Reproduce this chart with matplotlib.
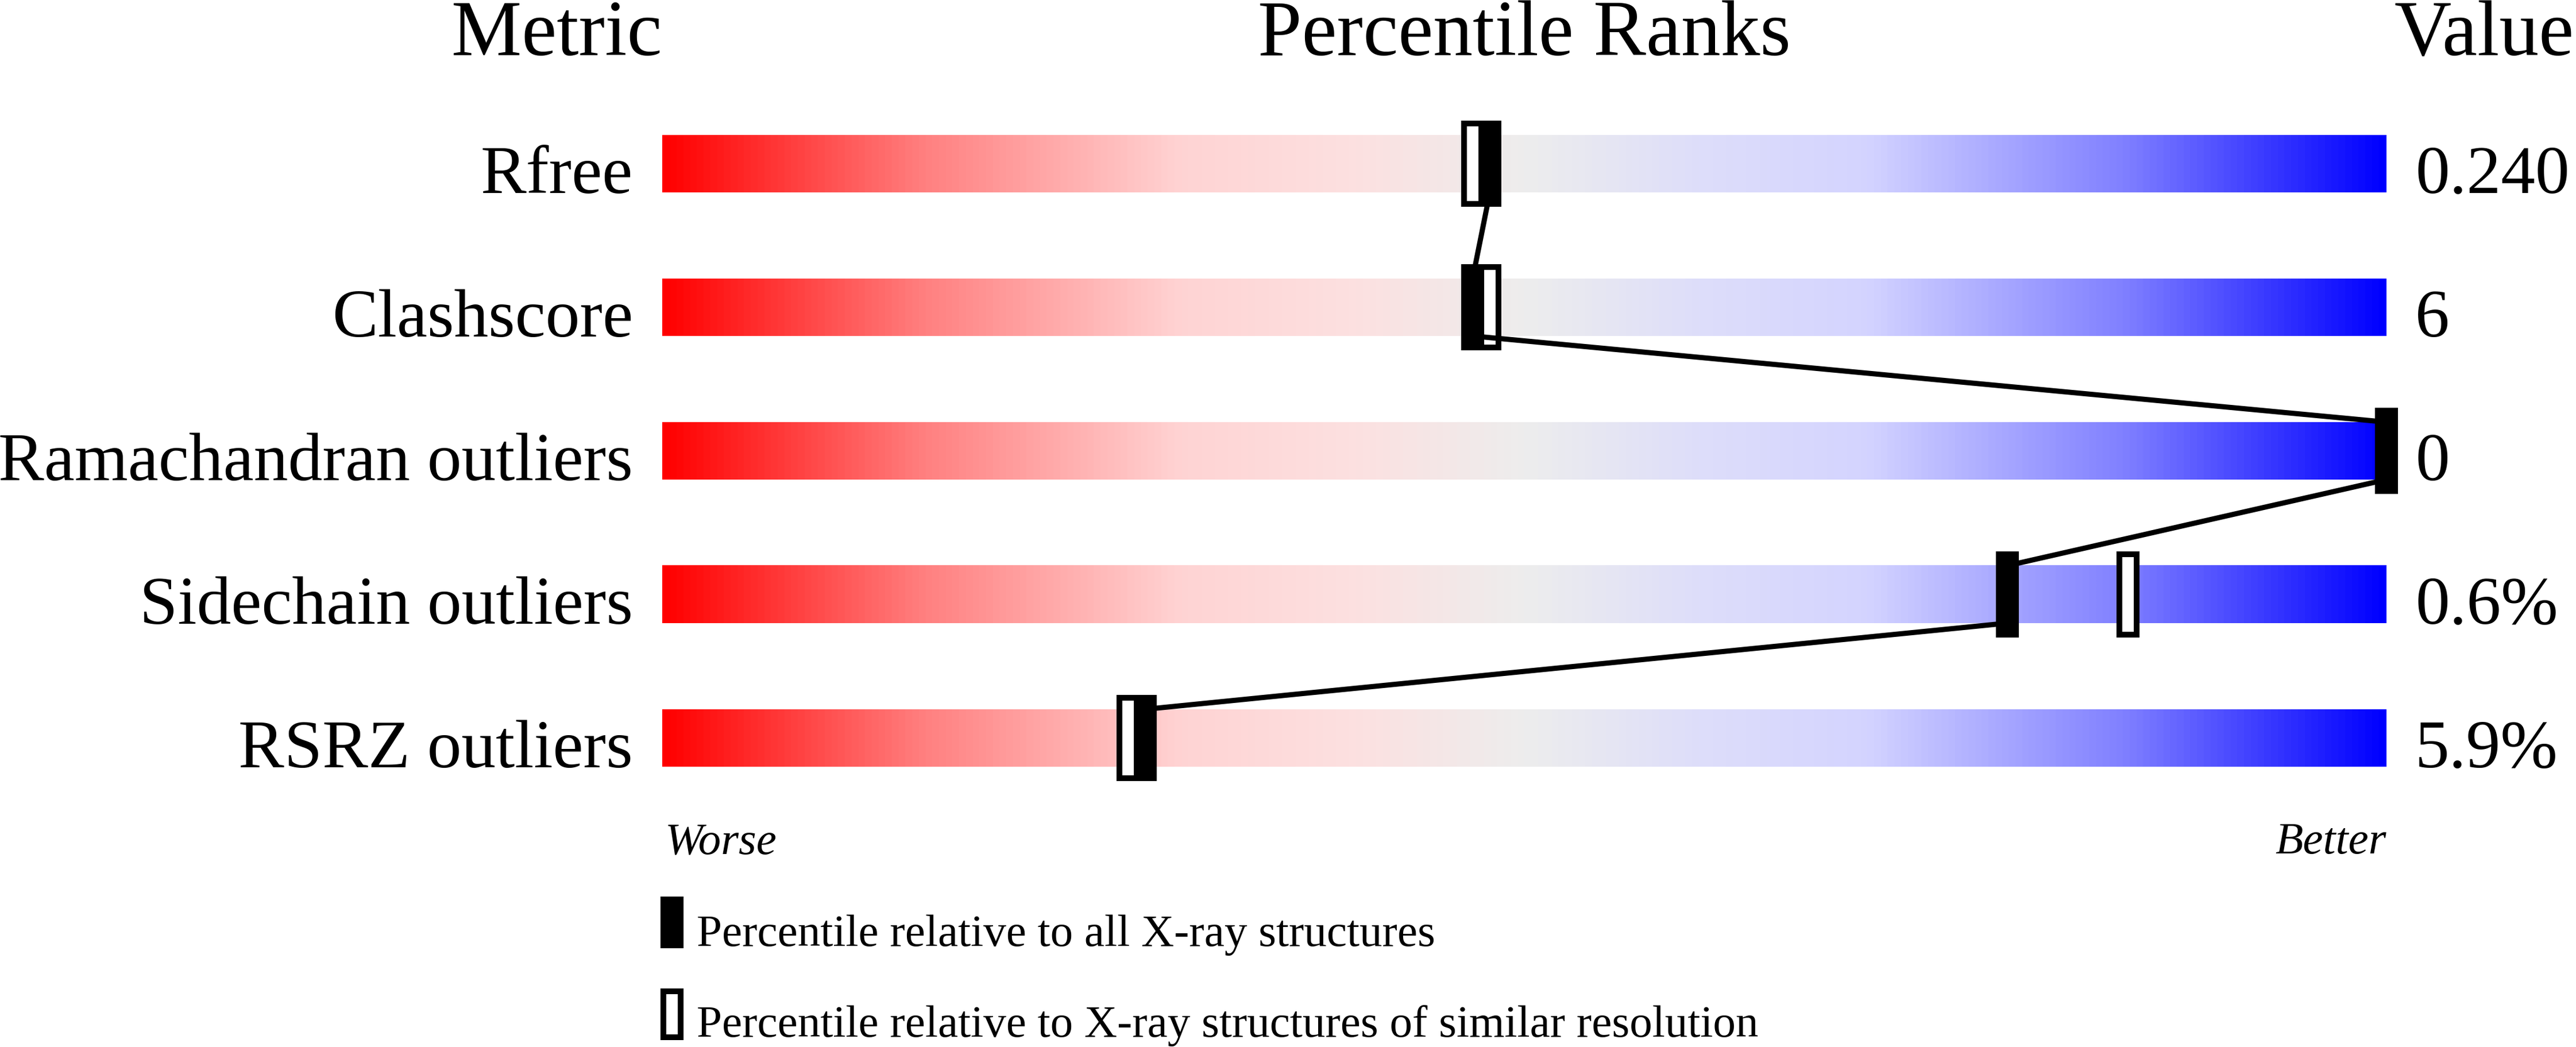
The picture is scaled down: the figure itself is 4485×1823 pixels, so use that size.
import numpy as np
import matplotlib
matplotlib.use("Agg")
import matplotlib.pyplot as plt
from matplotlib.colors import LinearSegmentedColormap
from matplotlib.patches import Rectangle

# ---- data ----
metrics = ["Rfree", "Clashscore", "Ramachandran outliers",
           "Sidechain outliers", "RSRZ outliers"]
values = ["0.240", "6", "0", "0.6%", "5.9%"]
pct_all = [48, 47, 100, 78, 28]        # filled markers
pct_similar = [47, 48, 100, 85, 27]    # hollow markers
legend_labels = ["Percentile relative to all X-ray structures",
                 "Percentile relative to X-ray structures of similar resolution"]

# ---- layout (pixels of the 4485x1824 canvas) ----
W, H, DPI = 4485, 1824, 100
BAR_L, BAR_R = 1153, 4155       # 0 and 100 percentile
ROW0, ROW_PX = 286, 250         # centre of first bar, row spacing
PX = (BAR_R - BAR_L) / 100.0    # pixels per percentile unit

plt.rcParams["font.family"] = ["Liberation Serif", "DejaVu Serif"]

fig = plt.figure(figsize=(W / DPI, H / DPI), dpi=DPI)
ax = fig.add_axes([0, 0, 1, 1])
ax.set_xlim(-BAR_L / PX, (W - BAR_L) / PX)
ax.set_ylim((H - ROW0) / ROW_PX, -ROW0 / ROW_PX)
ax.axis("off")

def px_w(p):   # horizontal pixels -> data units
    return p / PX

def px_h(p):   # vertical pixels -> data units
    return p / ROW_PX

grad = LinearSegmentedColormap.from_list("wb", [
    (0.00, (1.00, 0.00, 0.00)),
    (0.15, (1.00, 0.50, 0.50)),
    (0.30, (1.00, 0.83, 0.83)),
    (0.40, (0.99, 0.88, 0.88)),
    (0.50, (0.93, 0.93, 0.93)),
    (0.60, (0.87, 0.87, 0.98)),
    (0.70, (0.83, 0.83, 1.00)),
    (0.85, (0.50, 0.50, 1.00)),
    (1.00, (0.00, 0.00, 1.00)),
])
ramp = np.linspace(0, 1, 800)[None, :]

bar_h = px_h(100)
mk_w, mk_h = px_w(40), px_h(150)
border = 10  # px
n = len(metrics)

for i in range(n):
    ax.imshow(ramp, cmap=grad, aspect="auto", interpolation="bilinear",
              extent=[0, 100, i + bar_h / 2, i - bar_h / 2], zorder=1)

    # hollow marker (similar resolution)
    ax.add_patch(Rectangle((pct_similar[i] - px_w(40 - border) / 2, i - px_h(150 - border) / 2),
                           px_w(40 - border), px_h(150 - border),
                           facecolor="white", edgecolor="black",
                           lw=border * 72 / DPI, joinstyle="miter", zorder=3))
    # filled marker (all structures)
    ax.add_patch(Rectangle((pct_all[i] - mk_w / 2, i - mk_h / 2), mk_w, mk_h,
                           facecolor="black", edgecolor="none", zorder=5))

    ax.text(-px_w(51), i + bar_h / 2, metrics[i], ha="right", va="baseline",
            fontsize=86)
    ax.text(100 + px_w(50), i + bar_h / 2, values[i], ha="left", va="baseline",
            fontsize=86)

# connecting line: bottom of one bar to the top of the next
for i in range(n - 1):
    ax.plot([pct_all[i], pct_all[i + 1]], [i + bar_h / 2, i + 1 - bar_h / 2],
            color="black", lw=9 * 72 / DPI, solid_capstyle="butt", zorder=4)

# column headers
head_y = px_h(96 - ROW0)
ax.text(0, head_y, "Metric", ha="right", va="baseline", fontsize=99)
ax.text(50, head_y, "Percentile Ranks", ha="center", va="baseline", fontsize=99)
ax.text(100 + px_w(327), head_y, "Value", ha="right", va="baseline", fontsize=99)

# worse / better
wb_y = px_h(1486 - ROW0)
ax.text(px_w(5), wb_y, "Worse", ha="left", va="baseline", fontsize=57, style="italic")
ax.text(100, wb_y, "Better", ha="right", va="baseline", fontsize=57, style="italic")

# legend
leg_tops = [1562, 1722]
leg_base = [1647, 1805]
lx = px_w(-3)
for k, lab in enumerate(legend_labels):
    top = px_h(leg_tops[k] - ROW0)
    if k == 0:
        ax.add_patch(Rectangle((lx, top), mk_w, px_h(90),
                               facecolor="black", edgecolor="none", zorder=5))
    else:
        ax.add_patch(Rectangle((lx + px_w(border / 2), top + px_h(border / 2)),
                               px_w(40 - border), px_h(90 - border),
                               facecolor="white", edgecolor="black",
                               lw=border * 72 / DPI, joinstyle="miter", zorder=5))
    ax.text(px_w(60), px_h(leg_base[k] - ROW0), lab, ha="left", va="baseline",
            fontsize=57)

fig.savefig("out.png", dpi=DPI)
